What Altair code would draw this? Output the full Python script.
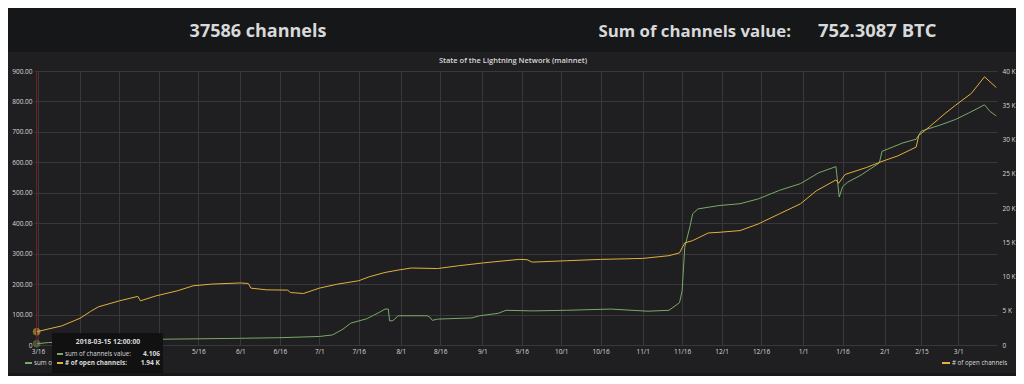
import altair as alt
import pandas as pd

# ---------------- data ----------------
green_dates = [
    "2018-03-15T12:00", "2018-03-20T00:00", "2018-04-08T00:00", "2018-04-23T00:00",
    "2018-05-03T00:00", "2018-06-01T00:00", "2018-06-16T00:00", "2018-07-01T00:00",
    "2018-07-06T00:00", "2018-07-10T00:00", "2018-07-13T00:00", "2018-07-19T00:00",
    "2018-07-24T00:00", "2018-07-26T00:00", "2018-07-27T06:00", "2018-07-27T18:00",
    "2018-07-29T00:00", "2018-07-31T00:00", "2018-08-11T00:00", "2018-08-12T00:00",
    "2018-08-13T00:00", "2018-08-15T00:00", "2018-08-28T00:00", "2018-08-31T00:00",
    "2018-09-07T00:00", "2018-09-10T00:00", "2018-09-20T00:00", "2018-10-03T00:00",
    "2018-10-20T00:00", "2018-11-03T00:00", "2018-11-11T00:00", "2018-11-15T00:00",
    "2018-11-16T00:00", "2018-11-17T00:00", "2018-11-19T00:00", "2018-11-20T00:00",
    "2018-11-22T00:00", "2018-11-30T00:00", "2018-12-08T00:00", "2018-12-15T00:00",
    "2018-12-23T00:00", "2018-12-31T00:00", "2019-01-07T00:00", "2019-01-13T12:00",
    "2019-01-14T18:00", "2019-01-16T00:00", "2019-01-18T00:00", "2019-01-23T00:00",
    "2019-01-30T00:00", "2019-01-31T00:00", "2019-02-08T00:00", "2019-02-13T00:00",
    "2019-02-15T00:00", "2019-02-22T00:00", "2019-02-28T00:00", "2019-03-05T00:00",
    "2019-03-11T00:00", "2019-03-13T00:00", "2019-03-15T12:00",
]
green_values = [
    4.1, 8, 13, 17,
    19, 22, 24, 28,
    33, 52, 72, 86,
    108, 118, 118, 79,
    80, 96, 96, 92,
    81, 85, 89, 96,
    104, 114, 112, 114,
    118, 111, 114, 139,
    178, 321, 390, 431,
    447, 458, 464, 480,
    508, 530, 566, 586,
    486, 520, 535, 558,
    598, 636, 664, 676,
    703, 722, 741, 762,
    789, 768, 752.3087,
]

orange_dates = [
    "2018-03-15T12:00", "2018-03-25T00:00", "2018-04-01T00:00", "2018-04-05T00:00",
    "2018-04-08T00:00", "2018-04-16T00:00", "2018-04-23T00:00", "2018-04-24T00:00",
    "2018-04-30T00:00", "2018-05-08T00:00", "2018-05-14T00:00", "2018-05-21T00:00",
    "2018-06-01T00:00", "2018-06-04T00:00", "2018-06-05T00:00", "2018-06-11T00:00",
    "2018-06-19T00:00", "2018-06-20T00:00", "2018-06-25T00:00", "2018-07-01T00:00",
    "2018-07-08T00:00", "2018-07-16T00:00", "2018-07-20T00:00", "2018-07-26T00:00",
    "2018-07-31T00:00", "2018-08-05T00:00", "2018-08-15T00:00", "2018-08-23T00:00",
    "2018-09-02T00:00", "2018-09-15T00:00", "2018-09-18T00:00", "2018-09-20T00:00",
    "2018-10-03T00:00", "2018-10-16T00:00", "2018-11-01T00:00", "2018-11-11T00:00",
    "2018-11-15T00:00", "2018-11-17T00:00", "2018-11-20T00:00", "2018-11-26T00:00",
    "2018-11-30T00:00", "2018-12-08T00:00", "2018-12-15T00:00", "2018-12-23T00:00",
    "2018-12-31T00:00", "2019-01-06T00:00", "2019-01-13T12:00", "2019-01-14T12:00",
    "2019-01-17T00:00", "2019-01-25T00:00", "2019-01-31T00:00", "2019-02-06T00:00",
    "2019-02-13T00:00", "2019-02-14T00:00", "2019-02-18T00:00", "2019-02-24T00:00",
    "2019-02-28T00:00", "2019-03-06T00:00", "2019-03-11T00:00", "2019-03-15T12:00",
]
orange_values = [
    1940, 2780, 3900, 4900,
    5570, 6450, 7100, 6450,
    7180, 7910, 8640, 8890,
    9060, 8980, 8300, 8050,
    8010, 7660, 7520, 8300,
    8890, 9380, 9960, 10590,
    10940, 11240, 11160, 11570,
    12010, 12500, 12450, 12100,
    12300, 12500, 12640, 13040,
    13450, 14900, 15240, 16360,
    16450, 16700, 17680, 19150,
    20610, 22500, 24100, 23600,
    24900, 25900, 26800, 27600,
    28900, 30600, 31840, 33800,
    35010, 36730, 39160, 37586,
]

x_tick_dates = [
    (2018, 3, 16), (2018, 4, 1), (2018, 4, 16), (2018, 5, 1), (2018, 5, 16),
    (2018, 6, 1), (2018, 6, 16), (2018, 7, 1), (2018, 7, 16), (2018, 8, 1),
    (2018, 8, 16), (2018, 9, 1), (2018, 9, 16), (2018, 10, 1), (2018, 10, 16),
    (2018, 11, 1), (2018, 11, 16), (2018, 12, 1), (2018, 12, 16), (2019, 1, 1),
    (2019, 1, 16), (2019, 2, 1), (2019, 2, 15), (2019, 3, 1),
]
left_ticks = [0, 100, 200, 300, 400, 500, 600, 700, 800, 900]
right_ticks = [0, 5000, 10000, 15000, 20000, 25000, 30000, 35000, 40000]

channel_count = "37586 channels"
sum_label = "Sum of channels value:"
sum_value = "752.3087 BTC"
panel_title = "State of the Lightning Network (mainnet)"
green_name = "sum of channels value"
orange_name = "# of open channels"
hover_time = "2018-03-15 12:00:00"
hover_green = "4.106"
hover_orange = "1.94 K"

# ---------------- styling ----------------
GREEN = "#78aa69"
ORANGE = "#e2b03c"
PANEL_BG = "#1f1e20"
PAGE_BG = "#161719"
TEXT = "#d8d9da"
GRID = "#38383a"
FONT = "Open Sans"
SMALL = 6.5
W, H = 963, 274

green_df = pd.DataFrame({"date": green_dates, "value": green_values})
orange_df = pd.DataFrame({"date": orange_dates, "value": orange_values})
hover_df = pd.DataFrame({"date": [green_dates[0]]})
one = alt.Data(values=[{"a": 1}])

# labels of 4/1, 4/16 and 5/1 sit beneath the hover tooltip in the reference
x_enc = alt.X(
    "date:T",
    scale=alt.Scale(domain=[alt.DateTime(year=2018, month=3, date=14, hours=12),
                            alt.DateTime(year=2019, month=3, date=15, hours=18)]),
    axis=alt.Axis(
        values=[alt.DateTime(year=y, month=m, date=d) for (y, m, d) in x_tick_dates],
        title=None, grid=True, gridColor=GRID, tickSize=0,
        domain=False, labelPadding=3, labelFlush=False, labelOverlap=False,
        labelColor=TEXT, labelFont=FONT, labelFontSize=SMALL,
        labelExpr=("(datum.value > datetime(2018, 2, 20) && datum.value < datetime(2018, 4, 10))"
                   " ? '' : timeFormat(datum.value, '%-m/%-d')"),
    ),
)

green_y = alt.Y(
    "value:Q",
    scale=alt.Scale(domain=[0, 900], nice=False),
    axis=alt.Axis(
        orient="left", values=left_ticks, title=None, grid=True, gridColor=GRID,
        tickSize=0, domain=False, labelPadding=2, labelColor=TEXT, labelFont=FONT,
        labelFontSize=SMALL,
        labelExpr="datum.value == 0 ? '0' : format(datum.value, '.2f')",
    ),
)
orange_y = alt.Y(
    "value:Q",
    scale=alt.Scale(domain=[0, 40000], nice=False),
    axis=alt.Axis(
        orient="right", values=right_ticks, title=None, grid=False,
        tickSize=0, domain=False, labelPadding=5, labelColor=TEXT, labelFont=FONT,
        labelFontSize=SMALL,
        labelExpr="datum.value == 0 ? '0' : format(datum.value / 1000, 'd') + ' K'",
    ),
)

green_base = alt.Chart(green_df)
green_layer = alt.layer(
    green_base.mark_line(color=GREEN, strokeWidth=1).encode(x=x_enc, y=green_y),
    green_base.transform_filter(alt.datum.value == green_values[0]).mark_point(
        color=GREEN, filled=True, size=40, opacity=0.45, stroke=GREEN, strokeWidth=1.5
    ).encode(x=x_enc, y=green_y),
)
orange_base = alt.Chart(orange_df)
orange_layer = alt.layer(
    orange_base.mark_line(color=ORANGE, strokeWidth=1).encode(x=x_enc, y=orange_y),
    orange_base.transform_filter(alt.datum.value == orange_values[0]).mark_point(
        color=ORANGE, filled=True, size=40, opacity=0.55, stroke=ORANGE, strokeWidth=1.5
    ).encode(x=x_enc, y=orange_y),
)

hover_rule = alt.Chart(hover_df).mark_rule(color="#7a2222", strokeWidth=1).encode(
    x=alt.X("date:T"), y=alt.value(0), y2=alt.value(H)
)


def box(x0, x1, y0, y1, color):
    return alt.Chart(one).mark_rect(color=color).encode(
        x=alt.value(x0), x2=alt.value(x1), y=alt.value(y0), y2=alt.value(y1)
    )


def label(txt, x, y, size=SMALL, align="left", weight="normal", color=TEXT, baseline="middle"):
    return alt.Chart(one).mark_text(
        text=txt, align=align, baseline=baseline, fontSize=size, font=FONT,
        fontWeight=weight, color=color,
    ).encode(x=alt.value(x), y=alt.value(y))


header_bg = box(-30, 990, -70, -19, PAGE_BG)
footer_bg = box(-30, 990, 302, 310, PAGE_BG)

header1 = label(channel_count, 224, -34, size=18, align="center", weight="bold",
                baseline="alphabetic")
header2 = label(sum_label, 757, -34, size=16.8, align="right", weight="bold",
                baseline="alphabetic")
header3 = label(sum_value, 784, -34, size=18.4, align="left", weight="bold",
                baseline="alphabetic")
title = label(panel_title, 479, -10, size=7.5, align="center", weight=600)

legend_left_swatch = box(-9, -2, 291, 293, GREEN)
legend_left = label(green_name, 0, 292, size=6.3)
legend_right_swatch = box(908, 916, 291, 293, ORANGE)
legend_right = label(orange_name, 918, 292, size=6.2)

tip_bg = box(18, 129, 262, 302, "#111112")
tip_time = label(hover_time, 74, 271, size=6.8, align="center", weight="bold")
tip_sw1 = box(23, 29, 282, 284, GREEN)
tip_l1 = label(green_name + ":", 31, 283, size=6.2)
tip_v1 = label(hover_green, 126, 283, size=6.6, align="right", weight="bold")
tip_sw2 = box(23, 29, 291, 293, ORANGE)
tip_l2 = label(orange_name + ":", 31, 292, size=6.4, weight="bold")
tip_v2 = label(hover_orange, 126, 292, size=6.6, align="right", weight="bold")

chart = alt.layer(
    header_bg, footer_bg,
    green_layer, orange_layer, hover_rule,
    header1, header2, header3, title,
    legend_left_swatch, legend_left, legend_right_swatch, legend_right,
    tip_bg, tip_time, tip_sw1, tip_l1, tip_v1, tip_sw2, tip_l2, tip_v2,
).resolve_scale(y="independent").properties(
    width=W, height=H,
    background=PANEL_BG,
    padding={"left": 26, "top": 63, "right": 19, "bottom": 31},
    autosize=alt.AutoSizeParams(type="none"),
).configure_view(stroke=None)

chart.save("out.html", embed_options={"renderer": "svg", "actions": False})
